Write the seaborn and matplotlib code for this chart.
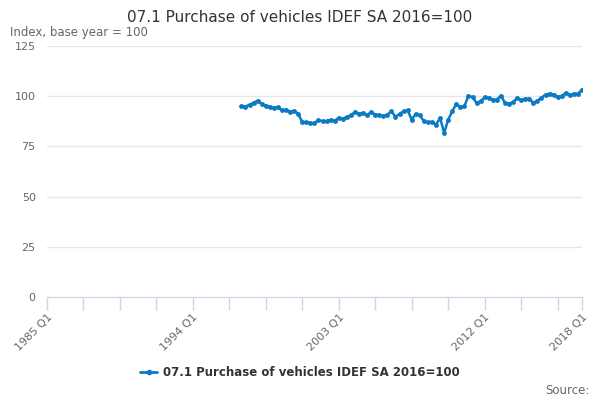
import pandas as pd
import matplotlib
matplotlib.use('Agg')
import matplotlib.pyplot as plt
import seaborn as sns

# quarterly index values, 1997 Q1 .. 2018 Q1
first_quarter = '1997Q1'
values = [
    95.2, 94.8, 95.8, 96.7, 97.8, 96.2, 95.3, 94.8, 94.2, 94.5,
    93.0, 93.3, 92.2, 92.8, 91.2, 87.2, 87.0, 86.8, 86.5, 88.2,
    87.5, 87.5, 88.3, 87.8, 89.2, 88.7, 89.7, 90.5, 92.2, 91.2,
    91.7, 90.5, 92.2, 90.8, 90.8, 90.0, 90.8, 92.5, 89.7, 91.2,
    92.5, 93.0, 88.3, 91.2, 90.5, 87.5, 87.0, 87.2, 85.9, 89.2,
    81.7, 88.3, 92.5, 96.2, 94.5, 95.0, 100.3, 99.5, 96.7, 97.5,
    99.5, 99.2, 98.3, 98.3, 100.3, 96.7, 96.3, 97.0, 99.2, 98.0,
    98.8, 98.8, 96.7, 97.8, 99.2, 100.8, 101.3, 100.8, 99.7, 100.0,
    101.7, 100.5, 101.3, 101.2, 103.3,
]
axis_start = '1985Q1'
axis_end = '2018Q1'
tick_labels = ['1985 Q1', '1994 Q1', '2003 Q1', '2012 Q1', '2018 Q1']
series_name = '07.1 Purchase of vehicles IDEF SA 2016=100'

start = pd.Period(axis_start, freq='Q')
periods = pd.period_range(first_quarter, periods=len(values), freq='Q')
df = pd.DataFrame({
    'q': [(p - start).n for p in periods],
    'value': values,
    'series': series_name,
})
end_q = (pd.Period(axis_end, freq='Q') - start).n

sns.set_style('white')
plt.rcParams['font.family'] = ['DejaVu Sans']

fig = plt.figure(figsize=(6, 4), dpi=100)
ax = fig.add_axes([0.078, 0.2575, 0.892, 0.6275])

line_col = '#0a7ac4'
sns.lineplot(data=df, x='q', y='value', hue='series', palette=[line_col],
             marker='o', markersize=3.5, markeredgewidth=0, linewidth=1.8,
             ax=ax, legend=False)

ax.set_xlim(0, end_q)
ax.set_ylim(0, 125)
ax.set_yticks([0, 25, 50, 75, 100, 125])
ax.yaxis.grid(True, color='#e6e6e6', linewidth=1)
ax.tick_params(axis='y', left=False, length=0, labelsize=8,
               labelcolor='#666666', pad=8)

major = [0, 36, 72, 108, end_q]
minor = [t for t in range(0, end_q, 9) if t not in major]
ax.set_xticks(major)
ax.set_xticklabels(tick_labels, rotation=45, ha='right', rotation_mode='anchor',
                   fontsize=8, color='#666666')
ax.set_xticks(minor, minor=True)
ax.tick_params(axis='x', which='both', bottom=True, direction='out', length=9,
               color='#ccd6eb', width=1, pad=2)
ax.set_xlabel('')
ax.set_ylabel('')
for s in ['top', 'right', 'left']:
    ax.spines[s].set_visible(False)
ax.spines['bottom'].set_color('#ccd6eb')
ax.set_axisbelow(True)

fig.text(0.5, 0.955, series_name, ha='center', va='center', fontsize=11,
         color='#333333')
fig.text(0.017, 0.918, 'Index, base year = 100', ha='left', va='center',
         fontsize=8.5, color='#666666')

# legend
handle, = ax.plot([], [], color=line_col, marker='o', markersize=3,
                  linewidth=2)
fig.legend([handle], [series_name], loc='center', bbox_to_anchor=(0.5, 0.068),
           frameon=False, prop={'weight': 'bold', 'size': 8.5},
           handlelength=1.4, handletextpad=0.5, labelcolor='#333333')
fig.text(0.982, 0.025, 'Source:', ha='right', va='center', fontsize=8.5,
         color='#666666')

fig.savefig('out.png', dpi=100)
